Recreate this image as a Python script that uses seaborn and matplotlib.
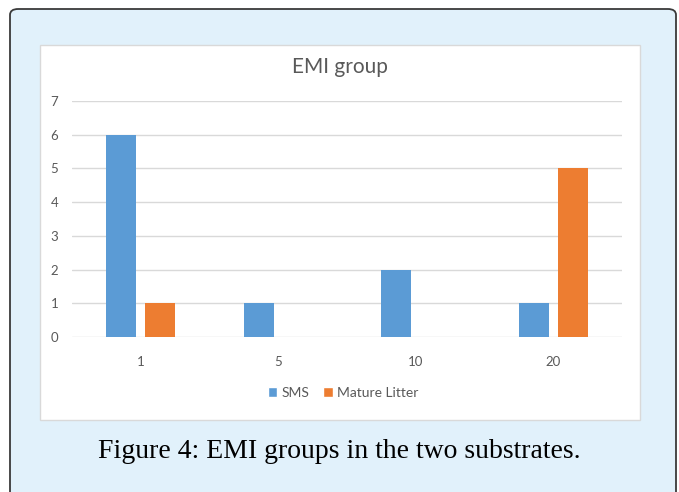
import numpy as np
import pandas as pd
import seaborn as sns
import matplotlib.pyplot as plt
from matplotlib.patches import FancyBboxPatch, Rectangle

# --------------------------
# data
# --------------------------
groups = ['1', '5', '10', '20']
sms = [6, 1, 2, 1]
mature_litter = [1, 0, 0, 5]
series_names = ['SMS', 'Mature Litter']
colors = ['#5B9BD5', '#ED7D31']

df = pd.DataFrame({
    'group': groups * 2,
    'count': sms + mature_litter,
    'substrate': [series_names[0]] * len(groups) + [series_names[1]] * len(groups),
})

sns.set_theme(style='white')
plt.rcParams['font.family'] = ['Lato', 'DejaVu Sans']

W, H = 679, 492
fig = plt.figure(figsize=(W / 100, H / 100), dpi=100)
fig.patch.set_facecolor('white')

# outer light-blue box (bottom runs off the page)
outer = FancyBboxPatch((10 / W, -0.05), 666 / W, (H - 9) / H + 0.05,
                       boxstyle='round,pad=0,rounding_size=0.012',
                       transform=fig.transFigure, facecolor='#E1F1FB',
                       edgecolor='#3a3a3a', linewidth=1.3, zorder=0)
fig.patches.append(outer)

# inner white chart panel
inner = Rectangle((40 / W, 1 - 420 / H), 600 / W, 375 / H,
                  transform=fig.transFigure, facecolor='white',
                  edgecolor='#D9D9D9', linewidth=1.0, zorder=1)
fig.patches.append(inner)

ax = fig.add_axes([72 / W, 1 - 337 / H, 550 / W, 236 / H])
ax.set_facecolor('none')
ax.set_zorder(2)

sns.barplot(data=df, x='group', y='count', hue='substrate', order=groups,
            hue_order=series_names, palette=colors, width=0.567, gap=0.23,
            saturation=1, linewidth=0, ax=ax, legend=False, zorder=3)

ax.set_ylim(0, 7)
ax.set_yticks(range(0, 8))
ax.set_xlim(-0.5, len(groups) - 0.5)
ax.grid(axis='y', color='#D9D9D9', linewidth=1.0, zorder=0)
ax.set_axisbelow(True)
for s in ax.spines.values():
    s.set_visible(False)
ax.tick_params(axis='both', length=0, labelsize=9.5, labelcolor='#595959')
ax.tick_params(axis='y', pad=10)
ax.tick_params(axis='x', pad=14)
ax.set_xlabel('')
ax.set_ylabel('')

fig.text(340 / W, 1 - 67 / H, 'EMI group', ha='center', va='center',
         fontsize=15, color='#595959')

# legend
handles = [Rectangle((0, 0), 1, 1, facecolor=c) for c in colors]
fig.legend(handles, series_names, loc='center', bbox_to_anchor=(343 / W, 1 - 393 / H),
           ncol=2, frameon=False, fontsize=10, labelcolor='#595959',
           handlelength=0.7, handleheight=0.7, handletextpad=0.3, columnspacing=1.0)

fig.text(339 / W, 1 - 451 / H, 'Figure 4: EMI groups in the two substrates.',
         ha='center', va='center', fontsize=20, color='black',
         family=['Liberation Serif', 'DejaVu Serif'])

fig.savefig('out.png', dpi=100)
